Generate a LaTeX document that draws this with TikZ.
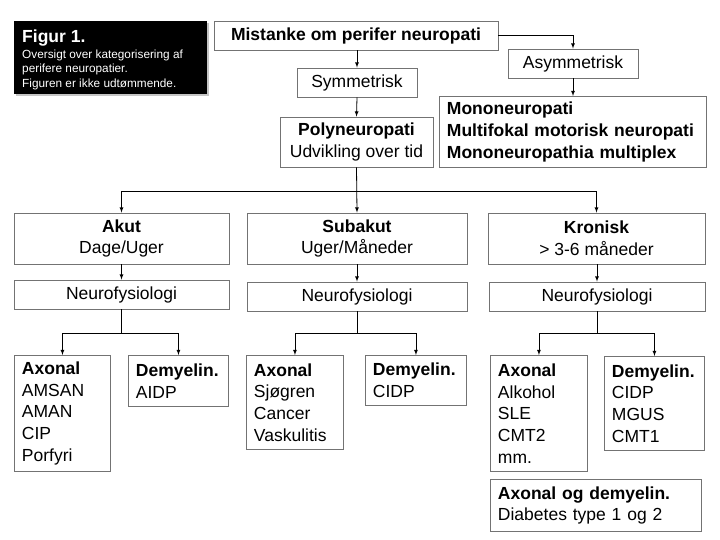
\documentclass[tikz,border=0pt]{standalone}
\usepackage{fontspec}
\setmainfont{Liberation Sans}
\usetikzlibrary{arrows,shadows}

\begin{document}
\begin{tikzpicture}[x=1pt,y=-1pt,
  box/.style={draw=black!55, line width=0.9pt, fill=white, inner sep=0pt,
    align=center, font=\fontsize{17.5}{21.7}\selectfont},
  list/.style={box, anchor=north west, align=left, inner xsep=7.5pt},
  link/.style={-latex, line width=0.8pt}]
  \useasboundingbox (0,0) rectangle (720,540);

  % caption
  \node[fill=black, minimum width=193pt, minimum height=73pt, anchor=north west,
    drop shadow={shadow xshift=2pt, shadow yshift=-2pt, fill=black!45}] (figur) at (14,21) {};
  \node[anchor=base west, inner sep=0pt, text=white,
    font=\bfseries\fontsize{17.5}{20}\selectfont] (figtitle) at (22,43) {Figur 1.};
  \node[anchor=north west, inner sep=0pt, text=white, align=left,
    font=\fontsize{11.8}{14.5}\selectfont] (figtext) at (22,49.5)
    {Oversigt over kategorisering af\\perifere neuropatier.\\Figuren er ikke udtømmende.};

  % top
  \node[box, minimum width=284pt, minimum height=29pt, font=\bfseries\fontsize{17.5}{21.7}\selectfont]
    (mistanke) at (356,35.5) {Mistanke om perifer neuropati};
  \node[box, minimum width=120pt, minimum height=29pt] (symm) at (357,82.5) {Symmetrisk};
  \node[box, minimum width=130pt, minimum height=29pt] (asym) at (573,63.5) {Asymmetrisk};
  \node[list, text width=252pt, minimum height=71pt, font=\bfseries\fontsize{17.5}{21.7}\selectfont]
    (mono) at (439,96) {Mononeuropati\\Multifokal motorisk neuropati\\Mononeuropathia multiplex};
  \node[box, minimum width=153pt, minimum height=50pt] (poly) at (356.5,142)
    {\textbf{Polyneuropati}\\Udvikling over tid};

  % categories
  \node[box, minimum width=215pt, minimum height=51pt] (akut) at (121.5,238.5) {\textbf{Akut}\\Dage/Uger};
  \node[box, minimum width=220pt, minimum height=51pt] (subakut) at (357,238.5) {\textbf{Subakut}\\Uger/Måneder};
  \node[box, minimum width=217pt, minimum height=51pt] (kronisk) at (596.5,238.5) {\textbf{Kronisk}\\> 3-6 måneder};

  \node[box, minimum width=215pt, minimum height=29pt] (neuroa) at (121.5,294.5) {Neurofysiologi};
  \node[box, minimum width=220pt, minimum height=29pt] (neuros) at (357,296.5) {Neurofysiologi};
  \node[box, minimum width=216pt, minimum height=29pt] (neurok) at (597,296.5) {Neurofysiologi};

  % leaves
  \node[list, text width=81pt, minimum height=116pt] (akax) at (14,355)
    {\textbf{Axonal}\\AMSAN\\AMAN\\CIP\\Porfyri};
  \node[list, text width=85pt, minimum height=51pt] (akde) at (128,355)
    {\textbf{Demyelin.}\\AIDP};
  \node[list, text width=82pt, minimum height=94pt] (suax) at (246,355)
    {\textbf{Axonal}\\Sjøgren\\Cancer\\Vaskulitis};
  \node[list, text width=86pt, minimum height=50pt] (sude) at (365,355)
    {\textbf{Demyelin.}\\CIDP};
  \node[list, text width=82pt, minimum height=116pt] (krax) at (490,355)
    {\textbf{Axonal}\\Alkohol\\SLE\\CMT2\\mm.};
  \node[list, text width=85pt, minimum height=94pt] (krde) at (604,356)
    {\textbf{Demyelin.}\\CIDP\\MGUS\\CMT1};
  \node[list, text width=196pt, minimum height=52pt] (krboth) at (490,479)
    {\textbf{Axonal og demyelin.}\\Diabetes type 1 og 2};

  % connectors
  \coordinate (forkp) at (357,191);
  \coordinate (forka) at (121.5,333);
  \coordinate (forks) at (357,333);
  \coordinate (forkk) at (597,333);

  \draw[link] (symm.north |- mistanke.south) -- (symm.north);
  \draw[link] (mistanke.east) -| (asym.north);
  \draw[link] (asym.south) -- (asym.south |- mono.north);
  \draw[link] (symm.south) -- (poly.north);
  \draw[link] (poly.south) -- (subakut.north);
  \draw[link] (forkp) -| (akut.north);
  \draw[link] (forkp) -| (kronisk.north);

  \draw[link] (akut.south) -- (neuroa.north);
  \draw[link] (subakut.south) -- (neuros.north);
  \draw[link] (neurok.north |- kronisk.south) -- (neurok.north);

  \draw[link] (neuroa.south) -- (forka) -| (akax.north);
  \draw[link] (forka) -| (akde.north);
  \draw[link] (neuros.south) -- (forks) -| (suax.north);
  \draw[link] (forks) -| (sude.north);
  \draw[link] (neurok.south) -- (forkk) -| (krax.north);
  \draw[link] (forkk) -| (krde.north);
\end{tikzpicture}
\end{document}
